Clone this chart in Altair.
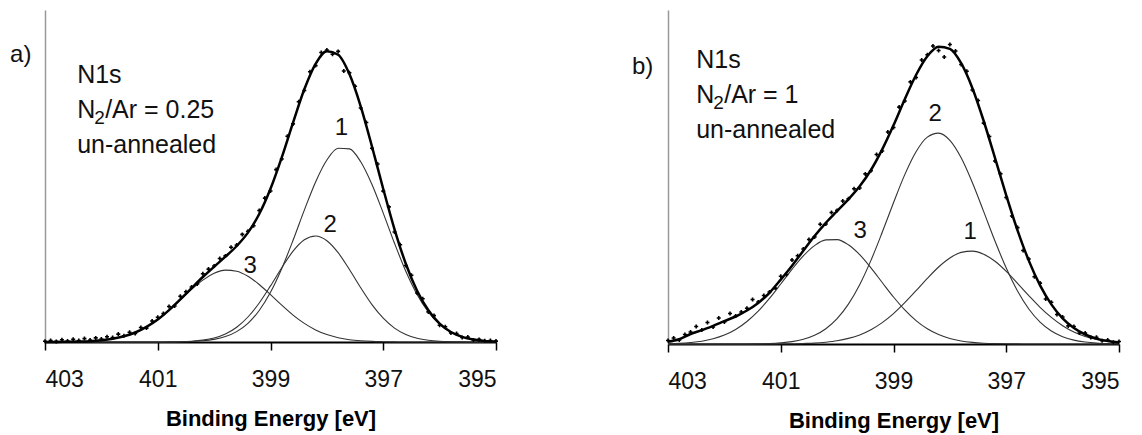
import altair as alt
import pandas as pd

# ---------------- data ----------------
E_CURVE = [403.0, 402.8, 402.6, 402.4, 402.2, 402.0, 401.8, 401.6, 401.4, 401.2,
           401.0, 400.8, 400.6, 400.4, 400.2, 400.0, 399.8, 399.6, 399.4, 399.2,
           399.0, 398.8, 398.6, 398.4, 398.2, 398.0, 397.8, 397.6, 397.4, 397.2,
           397.0, 396.8, 396.6, 396.4, 396.2, 396.0, 395.8, 395.6, 395.4, 395.2, 395.0]

E_DOTS = [403.0, 402.9, 402.8, 402.7, 402.6, 402.5, 402.4, 402.3, 402.2, 402.1,
          402.0, 401.9, 401.8, 401.7, 401.6, 401.5, 401.4, 401.3, 401.2, 401.1,
          401.0, 400.9, 400.8, 400.7, 400.6, 400.5, 400.4, 400.3, 400.2, 400.1,
          400.0, 399.9, 399.8, 399.7, 399.6, 399.5, 399.4, 399.3, 399.2, 399.1,
          399.0, 398.9, 398.8, 398.7, 398.6, 398.5, 398.4, 398.3, 398.2, 398.1,
          398.0, 397.9, 397.8, 397.7, 397.6, 397.5, 397.4, 397.3, 397.2, 397.1,
          397.0, 396.9, 396.8, 396.7, 396.6, 396.5, 396.4, 396.3, 396.2, 396.1,
          396.0, 395.9, 395.8, 395.7, 395.6, 395.5, 395.4, 395.3, 395.2, 395.1, 395.0]

# panel a) N2/Ar = 0.25
A_C1 = [0, 0, 0, 0, 0, 0, 0, 0, 0, 0, 0.0, 0.1, 0.2, 0.5, 1.2, 2.6, 5.4, 10.4, 18.7, 31.5,
        49.7, 73.5, 101.7, 131.9, 160.1, 182.0, 193.7, 193.1, 180.2, 157.5, 128.9, 98.7,
        70.8, 47.6, 30.0, 17.6, 9.7, 5.0, 2.4, 1.1, 0.5]
A_C2 = [0, 0, 0, 0, 0, 0, 0, 0, 0, 0, 0, 0.1, 0.3, 0.8, 1.9, 4.0, 8.0, 14.8, 25.0, 39.0,
        56.1, 74.3, 90.8, 102.2, 106.0, 101.3, 89.3, 72.5, 54.3, 37.4, 23.8, 13.9, 7.5,
        3.7, 1.7, 0.7, 0.3, 0.1, 0, 0, 0]
A_C3 = [0.0, 0.1, 0.2, 0.4, 0.8, 1.7, 3.2, 5.7, 9.5, 15.1, 22.5, 31.7, 42.1, 52.6, 61.9,
        68.7, 71.9, 70.8, 65.7, 57.5, 47.4, 36.8, 26.9, 18.6, 12.1, 7.4, 4.3, 2.3, 1.2,
        0.6, 0.3, 0.1, 0, 0, 0, 0, 0, 0, 0, 0, 0]
A_TOT = [0.0, 0.1, 0.2, 0.4, 0.8, 1.7, 3.2, 5.7, 9.5, 15.1, 22.5, 31.9, 42.6, 53.9, 65.0,
         75.3, 85.3, 96.0, 109.4, 128.0, 153.2, 184.6, 219.4, 252.7, 278.2, 290.7, 287.3,
         267.9, 235.7, 195.5, 153.0, 112.7, 78.3, 51.3, 31.7, 18.3, 10.0, 5.1, 2.4, 1.1, 0.5]
A_DOTS = [0.8, 1.5, 0.6, 2.2, 1.0, 2.8, 1.5, 3.4, 2.0, 4.1, 3.0, 5.2, 4.4, 7.9, 6.3, 9.8,
          8.6, 14.5, 13.9, 21.0, 24.8, 28.4, 35.5, 36.0, 45.8, 50.3, 55.0, 58.1, 68.2, 72.9,
          76.0, 83.5, 86.1, 94.8, 96.9, 107.6, 110.8, 116.2, 131.5, 143.9, 151.0, 172.4,
          183.0, 205.8, 218.1, 240.3, 251.5, 270.2, 276.4, 289.5, 292.0, 287.8, 290.6,
          271.0, 269.2, 255.8, 234.0, 219.5, 193.8, 178.0, 150.9, 135.1, 110.0, 97.2, 76.5,
          66.8, 49.0, 43.2, 30.1, 26.4, 16.8, 15.2, 9.1, 8.4, 4.6, 4.9, 2.0, 2.6, 1.2, 1.5, 0.9]

# panel b) N2/Ar = 1
B_C1 = [0, 0, 0, 0, 0, 0, 0, 0, 0, 0.1, 0.2, 0.2, 0.5, 0.9, 1.8, 3.2, 5.6, 9.1, 14.3, 21.4,
        30.4, 41.3, 53.3, 65.6, 77.0, 86.0, 91.6, 92.9, 89.8, 82.7, 72.6, 60.7, 48.4, 36.7,
        26.6, 18.3, 12.0, 7.5, 4.5, 2.6, 1.4]
B_C2 = [0, 0, 0, 0, 0, 0, 0, 0, 0.2, 0.5, 1.2, 2.4, 4.7, 8.7, 15.3, 25.4, 39.9, 59.3, 83.6,
        111.7, 141.3, 169.4, 192.3, 206.9, 210.9, 203.6, 186.2, 161.3, 132.4, 103.0, 75.9,
        52.9, 35.0, 21.9, 13.0, 7.3, 3.9, 2.0, 0.9, 0.4, 0.2]
B_C3 = [0.3, 0.7, 1.5, 2.8, 5.2, 8.9, 14.5, 22.5, 32.9, 45.6, 60.0, 74.7, 88.1, 98.4, 104.1,
        104.4, 99.2, 89.3, 76.1, 61.5, 47.0, 34.1, 23.4, 15.2, 9.4, 5.5, 3.0, 1.6, 0.8, 0.4,
        0.2, 0.1, 0, 0, 0, 0, 0, 0, 0, 0, 0]
B_TOT = [2.3, 4.7, 10.0, 13.8, 18.2, 22.9, 27.5, 33.5, 41.1, 51.2, 64.4, 78.3, 93.3, 108.0,
         121.2, 133.0, 144.7, 157.7, 174.0, 194.6, 218.7, 244.8, 269.0, 287.7, 297.3, 295.1,
         280.8, 255.8, 223.0, 186.1, 148.7, 113.7, 83.4, 58.6, 39.6, 25.6, 15.9, 9.5, 5.4,
         3.0, 1.6]
B_DOTS = [3.5, 6.0, 4.0, 9.5, 12.0, 17.5, 14.0, 21.5, 17.0, 26.0, 22.0, 30.5, 28.0, 32.0,
          35.8, 44.5, 42.0, 48.5, 52.0, 55.9, 67.8, 69.5, 84.0, 88.2, 95.0, 104.5, 107.1,
          119.8, 120.0, 131.5, 133.6, 143.0, 145.2, 155.3, 156.0, 170.1, 173.2, 189.5, 193.0,
          212.0, 216.5, 236.9, 243.0, 262.1, 266.5, 284.0, 289.2, 298.0, 293.5, 287.0, 299.5,
          293.0, 279.5, 272.8, 254.0, 243.5, 220.9, 207.5, 183.0, 170.2, 146.5, 128.0, 116.4,
          93.5, 85.0, 67.2, 60.9, 45.0, 41.8, 29.5, 27.0, 18.1, 17.5, 11.0, 10.9, 6.5, 6.8,
          3.2, 4.0, 1.8, 2.5]

# peak labels (energy, height, text)
A_PEAK_E = [397.74, 397.94, 399.36]
A_PEAK_Y = [214, 117, 76]
B_PEAK_E = [397.64, 398.26, 399.59]
B_PEAK_Y = [112, 230, 113]
PEAK_TXT = ["1", "2", "3"]

# annotation block
A_NOTE_E, A_NOTE_Y = 402.43, [267, 232, 197]
B_NOTE_E, B_NOTE_Y = 402.50, [284, 249, 214]
A_RATIO, B_RATIO = "/Ar = 0.25", "/Ar = 1"
A_TAG = (403.62, 287, "a)")
B_TAG = (403.64, 277, "b)")

X_TICKS = [403, 401, 399, 397, 395]
FONT = "Liberation Sans"


def panel(c1, c2, c3, tot, dots, pe, py, ne, ny, ratio, tag, height, ymax):
    xs = alt.Scale(domain=[403, 395])
    ys = alt.Scale(domain=[0, ymax])
    xax = alt.Axis(values=X_TICKS, format="d", grid=False, domainColor="black",
                   domainWidth=2, tickColor="black", tickWidth=1.5, tickSize=8,
                   labelFont=FONT, labelFontSize=23, labelColor="#111",
                   labelPadding=18, title="Binding Energy [eV]", titleFont=FONT,
                   titleFontSize=22, titleFontWeight="bold", titleColor="black",
                   titlePadding=17)
    yax = alt.Axis(labels=False, ticks=False, title=None, grid=False,
                   domainColor="#999999", domainWidth=1.5)

    comp = pd.DataFrame({
        "E": E_CURVE * 3,
        "I": c1 + c2 + c3,
        "c": ["1"] * len(E_CURVE) + ["2"] * len(E_CURVE) + ["3"] * len(E_CURVE),
    })
    total = pd.DataFrame({"E": E_CURVE, "I": tot})
    pts = pd.DataFrame({"E": E_DOTS, "I": dots})
    peaks = pd.DataFrame({"E": pe, "I": py, "t": PEAK_TXT})
    notes_main = pd.DataFrame({"E": [ne, ne], "I": [ny[0], ny[2]], "t": ["N1s", "un-annealed"]})
    n_row = pd.DataFrame({"E": [ne], "I": [ny[1]]})
    tagdf = pd.DataFrame({"E": [tag[0]], "I": [tag[1]], "t": [tag[2]]})

    comp_l = alt.Chart(comp).mark_line(color="#333333", strokeWidth=1.1,
                                       interpolate="monotone").encode(
        x=alt.X("E:Q", scale=xs, axis=xax),
        y=alt.Y("I:Q", scale=ys, axis=yax),
        detail="c:N")
    tot_l = alt.Chart(total).mark_line(color="black", strokeWidth=2.5,
                                       interpolate="monotone").encode(
        x=alt.X("E:Q", scale=xs), y=alt.Y("I:Q", scale=ys))
    pts_l = alt.Chart(pts).mark_point(shape="cross", filled=True, size=16,
                                      color="black", opacity=1).encode(
        x=alt.X("E:Q", scale=xs), y=alt.Y("I:Q", scale=ys))
    peak_l = alt.Chart(peaks).mark_text(font=FONT, fontSize=24, color="#111").encode(
        x=alt.X("E:Q", scale=xs), y=alt.Y("I:Q", scale=ys), text="t:N")
    note_l = alt.Chart(notes_main).mark_text(font=FONT, fontSize=25, align="left",
                                             baseline="middle", color="#111").encode(
        x=alt.X("E:Q", scale=xs), y=alt.Y("I:Q", scale=ys), text="t:N")
    n_l = alt.Chart(n_row).mark_text(font=FONT, fontSize=25, align="left",
                                     baseline="middle", color="#111", text="N").encode(
        x=alt.X("E:Q", scale=xs), y=alt.Y("I:Q", scale=ys))
    sub_l = alt.Chart(n_row).mark_text(font=FONT, fontSize=19, align="left",
                                       baseline="middle", color="#111", text="2",
                                       dx=17, dy=8).encode(
        x=alt.X("E:Q", scale=xs), y=alt.Y("I:Q", scale=ys))
    rat_l = alt.Chart(n_row).mark_text(font=FONT, fontSize=25, align="left",
                                       baseline="middle", color="#111", text=ratio,
                                       dx=28).encode(
        x=alt.X("E:Q", scale=xs), y=alt.Y("I:Q", scale=ys))
    tag_l = alt.Chart(tagdf).mark_text(font=FONT, fontSize=24, align="left",
                                       baseline="middle", color="#111").encode(
        x=alt.X("E:Q", scale=xs), y=alt.Y("I:Q", scale=ys), text="t:N")

    return alt.layer(comp_l, tot_l, pts_l, peak_l, note_l, n_l, sub_l, rat_l, tag_l
                     ).properties(width=451, height=height)


left = panel(A_C1, A_C2, A_C3, A_TOT, A_DOTS, A_PEAK_E, A_PEAK_Y,
             A_NOTE_E, A_NOTE_Y, A_RATIO, A_TAG, 332, 332)
right = panel(B_C1, B_C2, B_C3, B_TOT, B_DOTS, B_PEAK_E, B_PEAK_Y,
              B_NOTE_E, B_NOTE_Y, B_RATIO, B_TAG, 334, 334)

chart = alt.hconcat(left, right, spacing=172, bounds="flush").properties(
    padding={"left": 10, "top": 10, "right": 5, "bottom": 5},
    background="white",
).configure_view(stroke=None)

chart.save("out.html", embed_options={"renderer": "svg", "actions": False})
